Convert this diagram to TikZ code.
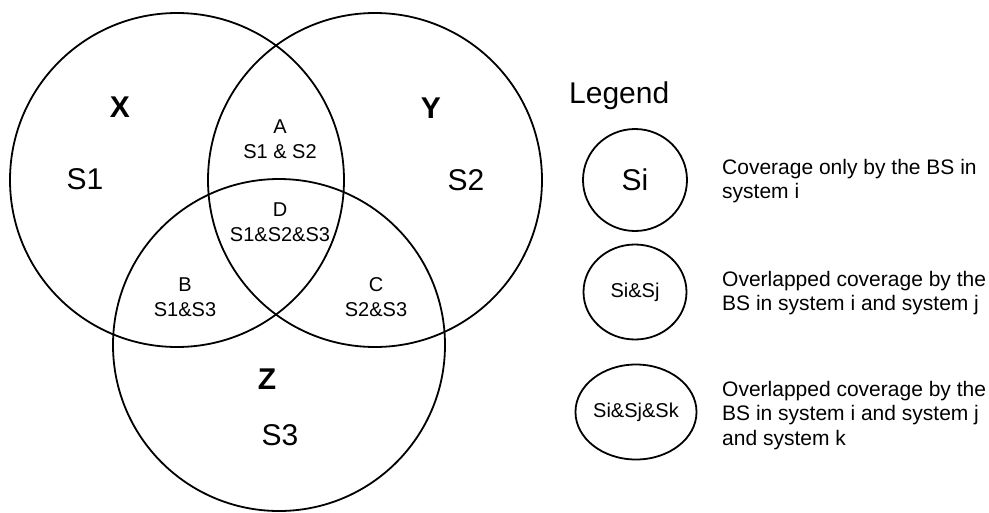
\documentclass[tikz,border=0pt]{standalone}
\usepackage{fontspec}
\setmainfont{Liberation Sans}
\usetikzlibrary{positioning, shapes.geometric}

\begin{document}
\begin{tikzpicture}[x=1pt, y=-1pt, inner sep=0pt,
        zone/.style={draw, line width=1.8pt},
        tag/.style={font=\fontsize{30}{32}\selectfont\bfseries},
        setname/.style={font=\fontsize{30}{32}\selectfont},
        part/.style={font=\fontsize{20}{25}\selectfont, align=center},
        keyring/.style={draw, ellipse, line width=1.8pt},
        note/.style={font=\fontsize{21}{24.5}\selectfont, align=left, anchor=north west}]
        \useasboundingbox (0,0) rectangle (989,512);

        % Coverage of the three systems
        \draw[zone] (177,180) circle (167);
        \draw[zone] (375,180) circle (167);
        \draw[zone] (279,345) circle (166);

        % System names
        \node[tag] (tagx) at (120,107) {X};
        \node[tag] (tagy) at (431,108) {Y};
        \node[tag] (tagz) at (267,379) {Z};
        \node[setname] (sone) at (85,179) {S1};
        \node[setname] (stwo) at (466,180) {S2};
        \node[setname] (sthree) at (280,435) {S3};

        % Overlap regions
        \node[part] (rega) at (280,139.5) {A\\S1 \& S2};
        \node[part] (regd) at (280,222.5) {D\\S1\&S2\&S3};
        \node[part] (regb) at (185,297.5) {B\\S1\&S3};
        \node[part] (regc) at (376,297.5) {C\\S2\&S3};

        % Legend
        \node[anchor=base west, font=\fontsize{30}{32}\selectfont] (legend) at (569,103) {Legend};
        \node[keyring, minimum width=104, minimum height=102, font=\fontsize{30}{32}\selectfont] (keyone) at (635,180) {Si};
        \node[keyring, minimum width=103, minimum height=95, font=\fontsize{20}{22}\selectfont] (keytwo) at (635,292) {Si\&Sj};
        \node[keyring, minimum width=102, minimum height=95, font=\fontsize{20}{22}\selectfont] (keythree) at (636,412) {Si\&Sj\&Sk};

        \node[note] (noteone) at (722,159) {Coverage only by the BS in\\system i};
        \node[note] (notetwo) at (722,271) {Overlapped coverage by the\\BS in system i and system j};
        \node[note] (notethree) at (722,381) {Overlapped coverage by the\\BS in system i and system j\\and system k};
    \end{tikzpicture}
\end{document}
